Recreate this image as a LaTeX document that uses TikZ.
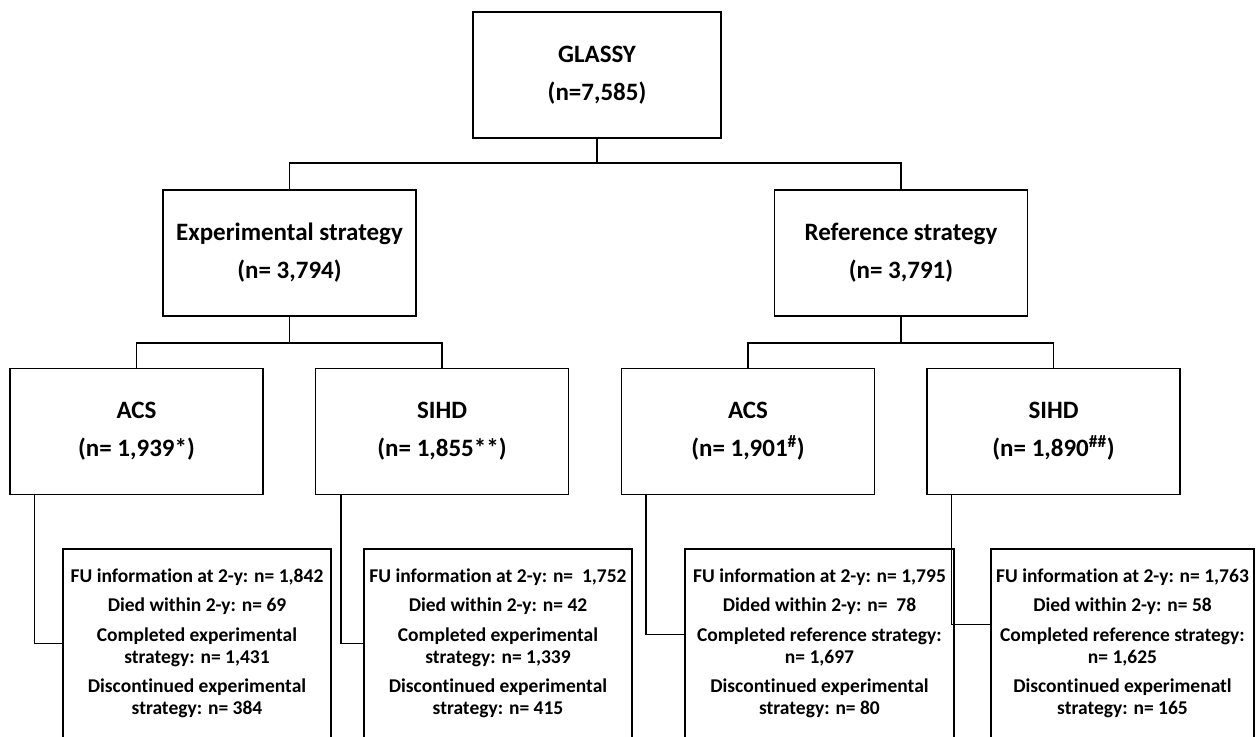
\documentclass[tikz,border=0pt]{standalone}
\usepackage{fontspec}
\setmainfont{Carlito}[Ligatures=NoCommon, RawFeature={-calt;-dlig}]
\usetikzlibrary{calc}
\tikzset{
	box/.style={draw, line width=1.2pt, align=center, inner sep=0pt,
		font=\fontsize{25}{30}\selectfont\bfseries,
		minimum width=253pt, minimum height=126pt},
	fubox/.style={draw, line width=1.2pt, align=center, inner sep=0pt,
		font=\fontsize{19.5}{22}\selectfont\bfseries,
		minimum width=268pt, minimum height=189pt},
	link/.style={line width=1.2pt}
}

\begin{document}
\begin{tikzpicture}[x=1pt, y=-1pt]
			%%%%% START %%%%%
			\clip (0, 0) rectangle (1257, 736);
			
			\node[box, minimum width=248pt] (glassy) at (597, 75) {GLASSY\\[8pt](n=7,585)};
			
			\node[box] (exper) at (289.5, 253) {Experimental strategy\\[8pt](n= 3,794)};
			\node[box] (refer) at (901, 253) {Reference strategy\\[8pt](n= 3,791)};
			
			\node[box] (acsE) at (136.5, 431.5) {ACS\\[8pt](n= 1,939*)};
			\node[box] (sihdE) at (442, 431.5) {SIHD\\[8pt](n= 1,855**)};
			\node[box] (acsR) at (748, 431.5) {ACS\\[8pt](n= 1,901\textsuperscript{\#})};
			\node[box] (sihdR) at (1053.5, 431.5) {SIHD\\[8pt](n= 1,890\textsuperscript{\#\#})};
			
			\node[fubox] (fuAcsE) at (197, 643.5) {FU information at 2-y: n= 1,842\\[7.5pt]
				Died within 2-y: n= 69\\[7.5pt]
				Completed experimental\\strategy: n= 1,431\\[7.5pt]
				Discontinued experimental\\strategy: n= 384};
			\node[fubox] (fuSihdE) at (498, 643.5) {FU information at 2-y: n= \ 1,752\\[7.5pt]
				Died within 2-y: n= 42\\[7.5pt]
				Completed experimental\\strategy: n= 1,339\\[7.5pt]
				Discontinued experimental\\strategy: n= 415};
			\node[fubox, minimum width=269pt] (fuAcsR) at (819.5, 643.5) {FU information at 2-y: n= 1,795\\[7.5pt]
				Dided within 2-y: n= \ 78\\[7.5pt]
				Completed reference strategy:\\n= 1,697\\[7.5pt]
				Discontinued experimental\\strategy: n= 80};
			\node[fubox, minimum width=263pt] (fuSihdR) at (1122.5, 643.5) {FU information at 2-y: n= 1,763\\[7.5pt]
				Died within 2-y: n= 58\\[7.5pt]
				Completed reference strategy:\\n= 1,625\\[7.5pt]
				Discontinued experimenatl\\strategy: n= 165};
			
			% tree links
			\coordinate (jTop) at (597, 163);
			\coordinate (jExp) at (289.5, 343);
			\coordinate (jRef) at (901, 343);
			\draw[link] (glassy.south) -- (jTop);
			\draw[link] (exper.north) |- (jTop) -| (refer.north);
			\draw[link] (exper.south) -- (jExp);
			\draw[link] (acsE.north) |- (jExp) -| (sihdE.north);
			\draw[link] (refer.south) -- (jRef);
			\draw[link] (acsR.north) |- (jRef) -| (sihdR.north);
			
			% follow-up links
			\draw[link] ([xshift=25pt]acsE.south west) |- (fuAcsE.west);
			\draw[link] ([xshift=26pt]sihdE.south west) |- (fuSihdE.west);
			\draw[link] ([xshift=25pt]acsR.south west) |- ([yshift=9pt]fuAcsR.west);
			\draw[link] ([xshift=25pt]sihdR.south west) |- ([yshift=19pt]fuSihdR.west);
			
			%%%%% END %%%%%
\end{tikzpicture}
\end{document}
